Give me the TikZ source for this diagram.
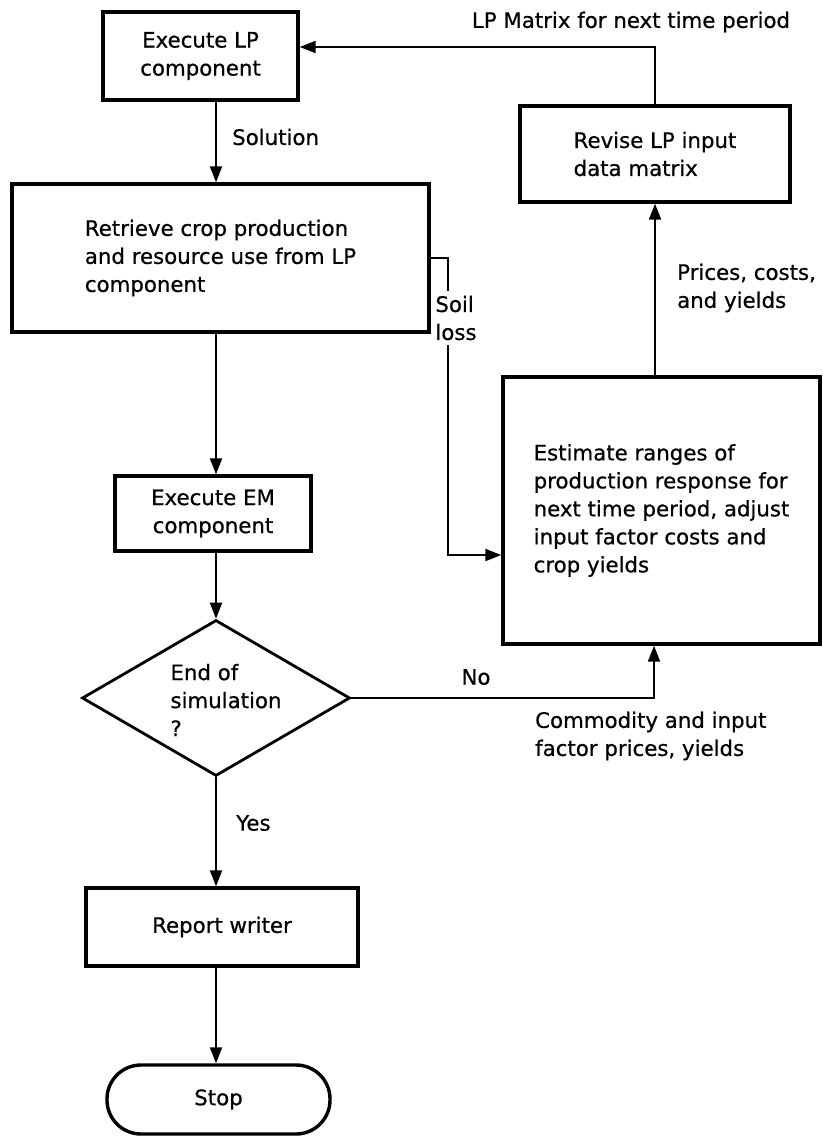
\documentclass[tikz,border=0pt]{standalone}
\usepackage{fontspec}
\setmainfont{DejaVu Sans}
\newfontfamily\flowfont{DejaVu Sans}[FakeBold=0.6]
\usetikzlibrary{arrows.meta,shapes.geometric}
\begin{document}
\begin{tikzpicture}[x=1pt,y=-1pt,
  txt/.style={font=\flowfont\fontsize{21.3pt}{28pt}\selectfont, inner sep=1pt},
  box/.style={txt, draw, line width=3.4pt, rectangle, align=center, inner sep=0pt},
  flow/.style={line width=2.2pt, -{Triangle[length=16pt,width=12pt]}},
  lab/.style={txt, align=left},
]
\fill[white] (0,0) rectangle (822,1137);
\useasboundingbox (0,0) rectangle (822,1137);

% process boxes
\node[box, minimum width=195pt, minimum height=88pt] (lp) at (200.5,56) {Execute LP\\component};
\node[box, align=left, minimum width=417pt, minimum height=148pt] (retrieve) at (220.5,258) {Retrieve crop production\\and resource use from LP\\component};
\node[box, align=left, minimum width=270pt, minimum height=96pt] (revise) at (655,154) {Revise LP input\\data matrix};
\node[box, align=left, minimum width=317pt, minimum height=267pt] (estimate) at (661.5,510.5) {Estimate ranges of\\production response for\\next time period, adjust\\input factor costs and\\crop yields};
\node[box, minimum width=196pt, minimum height=75pt] (em) at (213,513.5) {Execute EM\\component};
\node[draw, diamond, line width=2.8pt, minimum width=268pt, minimum height=156pt, inner sep=0pt] (dec) at (216,698) {};
\node[lab] (dectext) at (226,700) {End of\\simulation\\?};
\node[box, minimum width=272pt, minimum height=78pt] (report) at (222,927) {Report writer};
\node[box, rounded corners=34pt, minimum width=223pt, minimum height=69pt] (stop) at (218.5,1099.5) {Stop};

% routing helpers
\coordinate (spine) at (216,0);
\coordinate (topy) at (0,47);
\coordinate (soilx) at (448,0);
\coordinate (soily) at (0,555);
\coordinate (nox) at (654,0);

% connectors
\draw[flow] (revise.north) |- (lp.east |- topy);
\draw[flow] (lp.south -| spine) -- (retrieve.north -| spine);
\draw[flow] (retrieve.east) -| (soilx |- soily) -- (estimate.west |- soily);
\draw[flow] (estimate.north -| revise.south) -- (revise.south);
\draw[flow] (retrieve.south -| spine) -- (em.north -| spine);
\draw[flow] (em.south -| spine) -- (dec.north);
\draw[flow] (dec.east) -| (estimate.south -| nox);
\draw[flow] (dec.south) -- (report.north -| dec.south);
\draw[flow] (report.south -| dec.south) -- (stop.north -| dec.south);

% connector labels
\node[lab] (mlab) at (631,22) {LP Matrix for next time period};
\node[lab, anchor=west] (sol) at (231,137) {Solution};
\node[lab, fill=white, inner ysep=5pt] (soil) at (456,318) {Soil\\loss};
\node[lab, anchor=west] (prl) at (676,288) {Prices, costs,\\and yields};
\node[lab] (nol) at (476,677) {No};
\node[lab, anchor=west] (coml) at (534,736) {Commodity and input\\factor prices, yields};
\node[lab, anchor=west] (yesl) at (235,823) {Yes};
\end{tikzpicture}
\end{document}
